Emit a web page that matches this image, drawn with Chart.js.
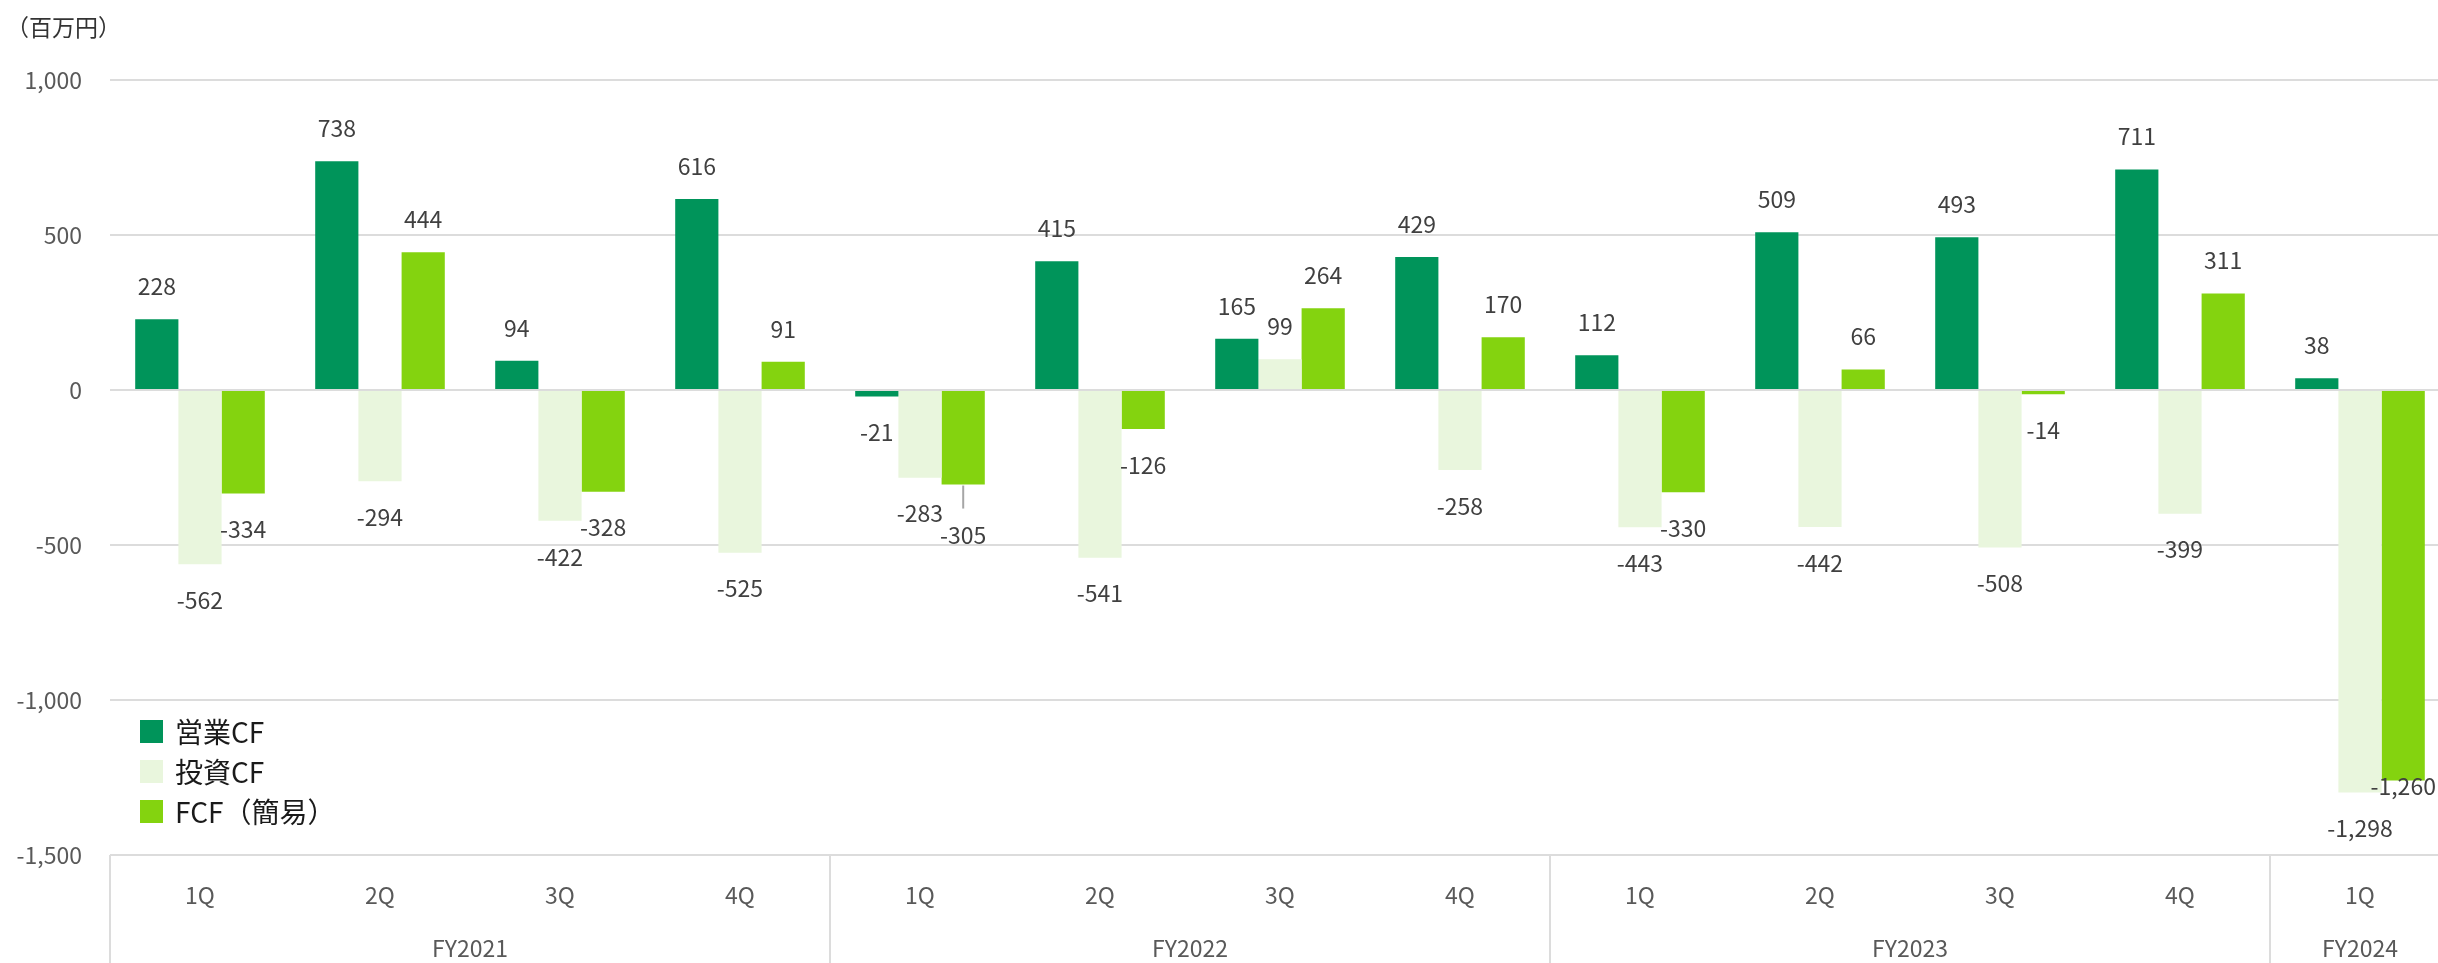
<!DOCTYPE html>
<html lang="ja">
<head>
<meta charset="utf-8">
<script src="https://cdn.jsdelivr.net/npm/chart.js@4.4.1/dist/chart.umd.min.js"></script>
<style>
  html, body { margin: 0; padding: 0; background: #fff; overflow: hidden; }
  #wrap { position: relative; width: 2452px; height: 963px; }
  #unit {
    position: absolute; left: 6px; top: 15px;
    font: 23px/23px "Noto Sans CJK JP", sans-serif; color: #333;
  }
  #legend { position: absolute; left: 140px; top: 711px; }
  .item { display: flex; align-items: center; height: 40px; }
  .swatch { width: 23px; height: 23px; margin-right: 12px; }
  .item span { font: 28px/1 "Noto Sans CJK JP", sans-serif; color: #1a1a1a; }
</style>
</head>
<body>
<div id="wrap">
  <canvas id="chart"></canvas>
  <div id="unit">（百万円）</div>
  <div id="legend"></div>
</div>
<script>
  const quarters = ['1Q', '2Q', '3Q', '4Q', '1Q', '2Q', '3Q', '4Q', '1Q', '2Q', '3Q', '4Q', '1Q'];
  const fiscalYears = ['FY2021', 'FY2022', 'FY2023', 'FY2024'];
  const quartersPerYear = [4, 4, 4, 1];

  const seriesNames = ['営業CF', '投資CF', 'FCF（簡易）'];
  const seriesColors = ['#00945a', '#e9f6dd', '#84d30f'];

  const operatingCF = [228, 738, 94, 616, -21, 415, 165, 429, 112, 509, 493, 711, 38];
  const investingCF = [-562, -294, -422, -525, -283, -541, 99, -258, -443, -442, -508, -399, -1298];
  const freeCF = [-334, 444, -328, 91, -305, -126, 264, 170, -330, 66, -14, 311, -1260];

  const yTicks = [1000, 500, 0, -500, -1000, -1500];

  // hand-placed labels in the original (dataset:index)
  const labelTweaks = {
    '2:4': { dy: 15, leader: true },
    '2:12': { dy: -30 },
  };

  const fmt = (v) => v.toLocaleString('en-US');
  const FONT = '"Noto Sans CJK JP", "Noto Sans", sans-serif';

  // legend
  const legend = document.getElementById('legend');
  seriesNames.forEach((name, i) => {
    const row = document.createElement('div');
    row.className = 'item';
    row.innerHTML = `<div class="swatch" style="background:${seriesColors[i]}"></div><span>${name}</span>`;
    legend.appendChild(row);
  });

  const valueLabels = {
    id: 'valueLabels',
    afterDatasetsDraw(chart) {
      const ctx = chart.ctx;
      ctx.save();
      ctx.font = `23px ${FONT}`;
      ctx.fillStyle = '#404040';
      ctx.textAlign = 'center';
      ctx.textBaseline = 'middle';
      chart.data.datasets.forEach((ds, di) => {
        chart.getDatasetMeta(di).data.forEach((bar, i) => {
          const v = ds.data[i];
          const tw = labelTweaks[di + ':' + i] || {};
          let y = v >= 0 ? bar.y - 33 : bar.y + 36;
          y += tw.dy || 0;
          if (tw.leader) {
            ctx.strokeStyle = '#a6a6a6';
            ctx.lineWidth = 2;
            ctx.beginPath();
            ctx.moveTo(bar.x, bar.y + 1);
            ctx.lineTo(bar.x, y - 27);
            ctx.stroke();
          }
          ctx.fillText(fmt(v), bar.x, y);
        });
      });
      ctx.restore();
    },
  };

  const groupAxis = {
    id: 'groupAxis',
    afterDraw(chart) {
      const ctx = chart.ctx;
      const area = chart.chartArea;
      const x = chart.scales.x;
      const step = x.getPixelForValue(1) - x.getPixelForValue(0);
      ctx.save();
      ctx.font = `23px ${FONT}`;
      ctx.fillStyle = '#595959';
      ctx.textAlign = 'center';
      ctx.textBaseline = 'middle';
      quarters.forEach((q, i) => {
        ctx.fillText(q, x.getPixelForValue(i), area.bottom + 40);
      });
      ctx.strokeStyle = '#dcdcdc';
      ctx.lineWidth = 2;
      let start = 0;
      fiscalYears.forEach((fy, g) => {
        const n = quartersPerYear[g];
        const left = x.getPixelForValue(start) - step / 2;
        ctx.beginPath();
        ctx.moveTo(left, area.bottom);
        ctx.lineTo(left, chart.height);
        ctx.stroke();
        ctx.fillText(fy, left + (n * step) / 2, area.bottom + 93);
        start += n;
      });
      ctx.restore();
    },
  };

  const barStyle = { categoryPercentage: 0.72, barPercentage: 1.0, borderWidth: 0 };

  new Chart(document.getElementById('chart'), {
    type: 'bar',
    data: {
      labels: quarters,
      datasets: [
        { label: seriesNames[0], data: operatingCF, backgroundColor: seriesColors[0], ...barStyle },
        { label: seriesNames[1], data: investingCF, backgroundColor: seriesColors[1], ...barStyle },
        { label: seriesNames[2], data: freeCF, backgroundColor: seriesColors[2], ...barStyle },
      ],
    },
    options: {
      responsive: true,
      maintainAspectRatio: false,
      animation: false,
      layout: { padding: { top: 80, bottom: 108, right: 2, left: 0 } },
      plugins: {
        legend: { display: false },
        tooltip: { enabled: false },
      },
      scales: {
        x: { display: false },
        y: {
          min: Math.min(...yTicks),
          max: Math.max(...yTicks),
          afterFit: (scale) => { scale.width = 110; },
          ticks: {
            stepSize: yTicks[0] - yTicks[1],
            padding: 28,
            color: '#595959',
            font: { family: FONT, size: 23 },
            callback: (v) => fmt(v),
          },
          grid: { color: '#dcdcdc', lineWidth: 2, drawTicks: false },
          border: { display: false },
        },
      },
    },
    plugins: [valueLabels, groupAxis],
  });
</script>
</body>
</html>
